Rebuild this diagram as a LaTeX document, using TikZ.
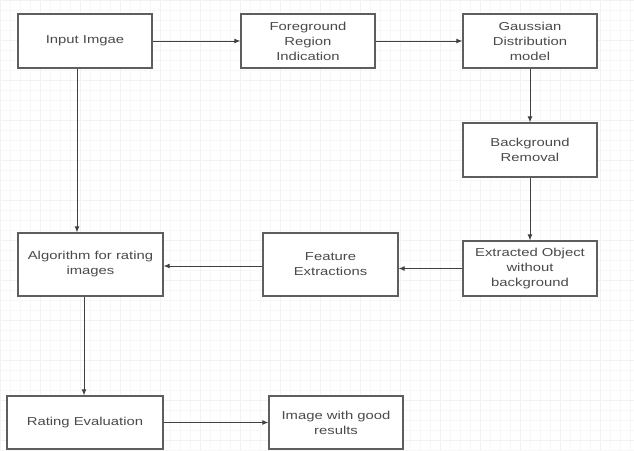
\documentclass[tikz,border=0pt]{standalone}
\usepackage{fontspec}
\setmainfont{Liberation Sans}[FakeStretch=1.29]
\usetikzlibrary{arrows.meta}
\definecolor{boxline}{HTML}{5E5E5E}
\definecolor{txt}{HTML}{4A4A4A}
\tikzset{
  blk/.style={draw=boxline, line width=1.2pt, fill=white, align=center,
    text=txt, font=\fontsize{11.5}{15}\selectfont, inner sep=0pt},
  conn/.style={draw=black!75, line width=1pt, -{Latex[length=6pt,width=5pt]}}
}
\begin{document}
\begin{tikzpicture}[x=1pt,y=-1pt]
\useasboundingbox (0,0) rectangle (634,450);
\fill[white] (0,0) rectangle (634,450);
\draw[black!3, line width=0.6pt, step=10pt] (0,0) grid (634,450);
\draw[black!5, line width=0.7pt, step=40pt] (0,0) grid (634,450);

\node[blk, minimum width=134pt, minimum height=54pt] (inp) at (85,41) {Input Imgae};
\node[blk, minimum width=134pt, minimum height=54pt] (fg) at (308,41) {Foreground\\Region\\Indication};
\node[blk, minimum width=134pt, minimum height=54pt] (gau) at (530,41) {Gaussian\\Distribution\\model};
\node[blk, minimum width=134pt, minimum height=54pt] (bg) at (530,150) {Background\\Removal};
\node[blk, minimum width=134pt, minimum height=55pt] (ext) at (530,268.5) {Extracted Object\\without\\background};
\node[blk, minimum width=145pt, minimum height=63pt] (alg) at (90.5,264.5) {Algorithm for rating\\images};
\node[blk, minimum width=135pt, minimum height=63pt] (fe) at (330.5,264.5) {Feature\\Extractions};
\node[blk, minimum width=156pt, minimum height=53pt] (rat) at (85,422.5) {Rating Evaluation};
\node[blk, minimum width=134pt, minimum height=53pt] (img) at (336,422.5) {Image with good\\results};

\draw[conn] (inp) -- (fg);
\draw[conn] (fg) -- (gau);
\draw[conn] (gau) -- (bg);
\draw[conn] (bg) -- (ext);
\draw[conn] (ext.west) -- (fe.east |- ext.west);
\draw[conn] ([yshift=-1.5pt]fe.west) -- ([yshift=-1.5pt]alg.east);
\draw[conn] ([xshift=-8pt]inp.south) -- ([xshift=-13.5pt]alg.north);
\draw[conn] ([xshift=-6.5pt]alg.south) -- ([xshift=-1pt]rat.north);
\draw[conn] (rat) -- (img);
\end{tikzpicture}
\end{document}
